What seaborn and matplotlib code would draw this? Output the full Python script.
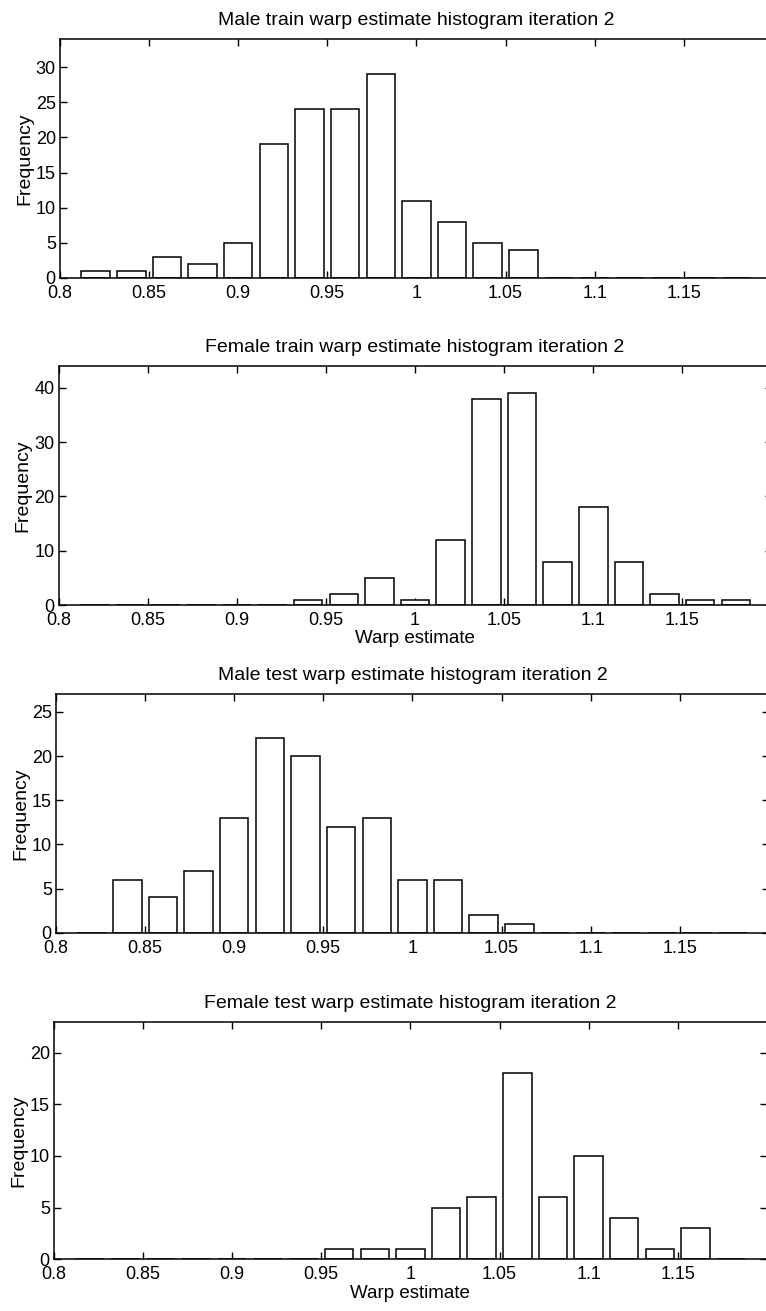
import matplotlib
matplotlib.use("Agg")
import matplotlib.pyplot as plt
import seaborn as sns
import pandas as pd

# ------------------------------------------------------
# Histogram data (bin centres, counts per bin)
# ------------------------------------------------------
bin_centers = [0.82, 0.84, 0.86, 0.88, 0.90, 0.92, 0.94, 0.96, 0.98, 1.00,
               1.02, 1.04, 1.06, 1.08, 1.10, 1.12, 1.14, 1.16, 1.18]

male_train = [1, 1, 3, 2, 5, 19, 24, 24, 29, 11, 8, 5, 4, 0, 0, 0, 0, 0, 0]
female_train = [0, 0, 0, 0, 0, 0, 1, 2, 5, 1, 12, 38, 39, 8, 18, 8, 2, 1, 1]
male_test = [0, 6, 4, 7, 13, 22, 20, 12, 13, 6, 6, 2, 1, 0, 0, 0, 0, 0, 0]
female_test = [0, 0, 0, 0, 0, 0, 0, 1, 1, 1, 5, 6, 18, 6, 10, 4, 1, 3, 0]

titles = ["Male train warp estimate histogram iteration 2",
          "Female train warp estimate histogram iteration 2",
          "Male test warp estimate histogram iteration 2",
          "Female test warp estimate histogram iteration 2"]
y_max = [34, 44, 27, 23]
y_ticks = [[0, 5, 10, 15, 20, 25, 30],
           [0, 10, 20, 30, 40],
           [0, 5, 10, 15, 20, 25],
           [0, 5, 10, 15, 20]]
x_ticks = [0.8, 0.85, 0.9, 0.95, 1.0, 1.05, 1.1, 1.15]
x_ticklabels = ["0.8", "0.85", "0.9", "0.95", "1", "1.05", "1.1", "1.15"]
x_labels = ["", "Warp estimate", "", "Warp estimate"]

sns.set_style("ticks")
plt.rcParams['font.family'] = ['Liberation Sans', 'DejaVu Sans']
plt.rcParams['text.color'] = 'black'
plt.rcParams['axes.labelcolor'] = 'black'

W, H = 766, 1311
fig = plt.figure(figsize=(W / 100, H / 100), dpi=100)

# axes boxes in pixels: left, top, bottom
boxes = [(60, 39.3, 277.7), (58.7, 366, 605), (56, 694.3, 932.7), (54, 1021.7, 1259.3)]
px_per_unit = 89.1 / 0.05

for i, counts in enumerate([male_train, female_train, male_test, female_test]):
    left, top, bottom = boxes[i]
    width_px = 0.4 * px_per_unit
    ax = fig.add_axes([left / W, 1 - bottom / H, width_px / W, (bottom - top) / H])

    df = pd.DataFrame({"warp": bin_centers, "count": counts})
    sns.barplot(data=df, x="warp", y="count", native_scale=True, width=0.8,
                color="white", edgecolor="black", linewidth=1.1,
                errorbar=None, ax=ax)

    ax.set_xlim(0.8, 1.2)
    ax.set_ylim(0, y_max[i])
    ax.set_xticks(x_ticks)
    ax.set_xticklabels(x_ticklabels)
    ax.set_yticks(y_ticks[i])
    ax.tick_params(direction="in", top=True, right=True, length=5,
                   width=1, labelsize=13, colors="black")
    ax.tick_params(axis="x", pad=5)
    ax.tick_params(axis="y", pad=3)
    for s in ax.spines.values():
        s.set_visible(True)
        s.set_color("black")
        s.set_linewidth(1.1)

    ax.set_title(titles[i], fontsize=14, pad=10, color="black")
    ax.set_ylabel("Frequency", fontsize=14, labelpad=2)
    ax.set_xlabel(x_labels[i], fontsize=13.5, labelpad=1)

fig.savefig("out.png", dpi=100, facecolor="white")
